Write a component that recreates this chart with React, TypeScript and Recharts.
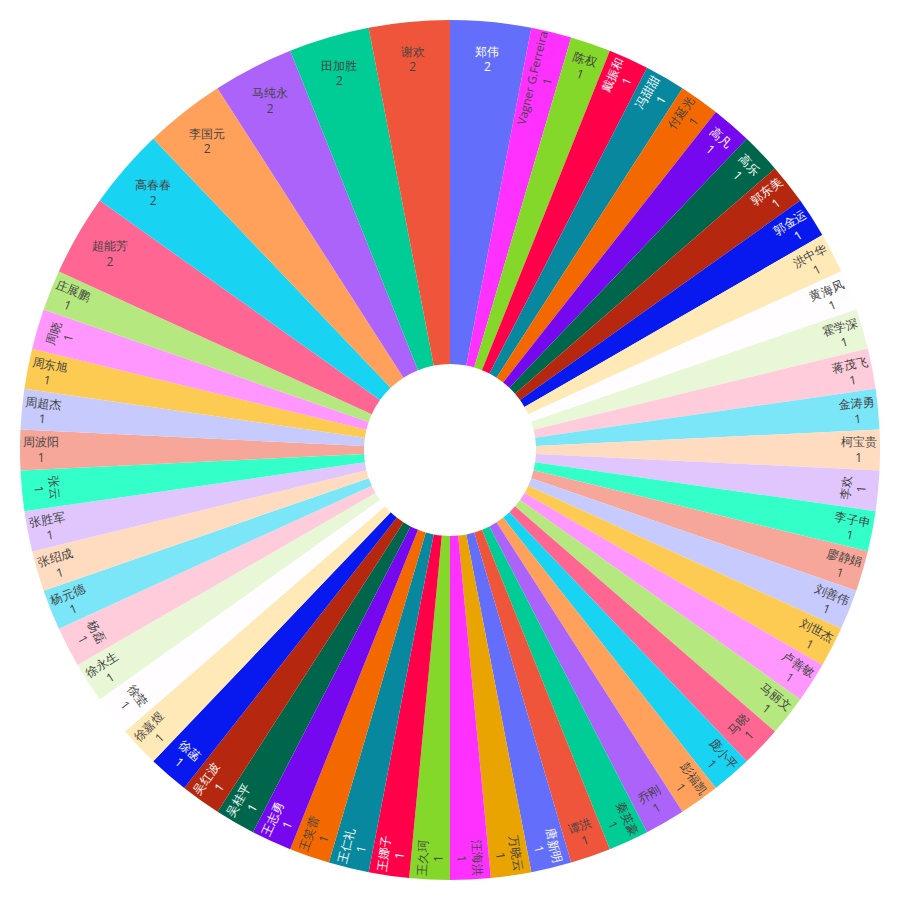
import React from "react";
import { PieChart, Pie, Cell } from "recharts";

// people, in the order the source listed them (count desc, then name desc)
const names = [
  "郑伟", "谢欢", "田加胜", "马纯永", "李国元", "高春春", "超能芳",
  "庄展鹏", "周晓", "周东旭", "周超杰", "周波阳", "张云", "张胜军", "张绍成",
  "杨元德", "杨磊", "徐永生", "徐莹", "徐嘉煜", "徐菡", "吴红波", "吴桂平",
  "王志勇", "王笑蕾", "王仁礼", "王娜子", "王久珂", "汪海洪", "万晓云", "唐新明",
  "谭洪", "秦英豪", "乔刚", "彭福凯", "庞小平", "马晓", "马丽文", "卢善敏",
  "刘世杰", "刘善伟", "廖静娟", "李子申", "李欢", "柯宝贵", "金涛勇", "蒋茂飞",
  "霍学深", "黄海风", "洪中华", "郭金运", "郭东美", "高乐", "高凡", "付延光",
  "冯甜甜", "戴振和", "陈权", "Vagner G.Ferreira",
];

const counts = [
  2, 2, 2, 2, 2, 2, 2,
  1, 1, 1, 1, 1, 1, 1, 1,
  1, 1, 1, 1, 1, 1, 1, 1,
  1, 1, 1, 1, 1, 1, 1, 1,
  1, 1, 1, 1, 1, 1, 1, 1,
  1, 1, 1, 1, 1, 1, 1, 1,
  1, 1, 1, 1, 1, 1, 1, 1,
  1, 1, 1, 1,
];

const BASE = ["#636EFA", "#EF553B", "#00CC96", "#AB63FA", "#FFA15A", "#19D3F3", "#FF6692", "#B6E880", "#FF97FF", "#FECB52"];

// hsl lighten / darken like tinycolor
function shade(hex: string, amt: number) {
  const r = parseInt(hex.slice(1, 3), 16) / 255;
  const g = parseInt(hex.slice(3, 5), 16) / 255;
  const b = parseInt(hex.slice(5, 7), 16) / 255;
  const max = Math.max(r, g, b), min = Math.min(r, g, b);
  let h = 0, s = 0;
  let l = (max + min) / 2;
  if (max !== min) {
    const d = max - min;
    s = l > 0.5 ? d / (2 - max - min) : d / (max + min);
    if (max === r) h = (g - b) / d + (g < b ? 6 : 0);
    else if (max === g) h = (b - r) / d + 2;
    else h = (r - g) / d + 4;
    h /= 6;
  }
  l = Math.min(1, Math.max(0, l + amt));
  const hue = (p: number, q: number, t: number) => {
    if (t < 0) t += 1;
    if (t > 1) t -= 1;
    if (t < 1 / 6) return p + (q - p) * 6 * t;
    if (t < 1 / 2) return q;
    if (t < 2 / 3) return p + (q - p) * (2 / 3 - t) * 6;
    return p;
  };
  let rr = l, gg = l, bb = l;
  if (s !== 0) {
    const q = l < 0.5 ? l * (1 + s) : l + s - l * s;
    const p = 2 * l - q;
    rr = hue(p, q, h + 1 / 3);
    gg = hue(p, q, h);
    bb = hue(p, q, h - 1 / 3);
  }
  const x = (v: number) => Math.round(v * 255).toString(16).padStart(2, "0");
  return "#" + x(rr) + x(gg) + x(bb);
}

const COLORS = [...BASE, ...BASE.map((c) => shade(c, 0.2)), ...BASE.map((c) => shade(c, -0.2))];

const source = names.map((name, i) => ({ name, value: counts[i], color: COLORS[i % COLORS.length] }));
// first slice at 12 o'clock, the rest running back round anticlockwise
const data = [source[0], ...source.slice(1).reverse()];
const total = counts.reduce((a, b) => a + b, 0);

const HOLE = 0.2;
const TEXTPAD = 3;
const FONT = "'Open Sans', verdana, arial, sans-serif";

let ctx: CanvasRenderingContext2D | null = null;
function textWidth(s: string) {
  if (!ctx) ctx = document.createElement("canvas").getContext("2d");
  if (ctx) {
    ctx.font = `12px ${FONT}`;
    return ctx.measureText(s).width;
  }
  return s.length * 12;
}

function isDark(hex: string) {
  const r = parseInt(hex.slice(1, 3), 16);
  const g = parseInt(hex.slice(3, 5), 16);
  const b = parseInt(hex.slice(5, 7), 16);
  return (r * 299 + g * 587 + b * 114) / 1000 < 128;
}

function maxHalfSize(a: number, half: number, r: number, ring: number) {
  const q = a + 1 / (2 * Math.tan(half));
  return r * Math.min(1 / (Math.sqrt(q * q + 0.5) + q), ring / (Math.sqrt(a * a + ring / 2) + a));
}

const calcRotate = (t: number) => (((180 / Math.PI) * t + 720) % 180) - 90;

const renderLabel = (props: any) => {
  const { cx, cy, midAngle, outerRadius, index } = props;
  const item = data[index];
  if (!item) return null;
  const r = outerRadius;
  const w = Math.max(textWidth(item.name), textWidth(String(item.value)));
  const h = 32;
  const half = Math.PI * Math.min(item.value / total, 0.5);
  const theta = ((90 - midAngle) * Math.PI) / 180;
  const ring = 1 - HOLE;
  const rIns = Math.min(1 / (1 + 1 / Math.sin(half)), ring / 2);

  let best = { scale: (rIns * r * 2) / Math.sqrt(w * w + h * h), rc: 1 - rIns, rotate: 0 };
  if (best.scale < 1) {
    const rr = Math.max(0, r - 2 * TEXTPAD);
    let a = w / h;
    let s = maxHalfSize(a, half, rr, ring);
    const rad = { scale: (2 * s) / h, rc: Math.cos(s / rr) - (a * s) / rr, rotate: calcRotate(theta) };
    a = h / w;
    s = maxHalfSize(a, half, rr, ring);
    const tan = { scale: (2 * s) / w, rc: Math.cos(s / rr) - (a * s) / rr, rotate: calcRotate(theta + Math.PI / 2) };
    if (rad.scale > best.scale) best = rad;
    if (tan.scale > best.scale) best = tan;
  }

  const x = cx + r * Math.sin(theta) * best.rc;
  const y = cy - r * Math.cos(theta) * best.rc;
  const sc = Math.min(1, best.scale);
  const fill = isDark(item.color) ? "#fff" : "#444";

  return (
    <g key={`lbl-${index}`} transform={`translate(${x},${y}) rotate(${best.rotate}) scale(${sc})`}>
      <text textAnchor="middle" fontFamily={FONT} fontSize={12} fill={fill}>
        <tspan x={0} y={-7.8} dy="0.35em">{item.name}</tspan>
        <tspan x={0} y={7.8} dy="0.35em">{item.value}</tspan>
      </text>
    </g>
  );
};

export default function App() {
  return (
    <div style={{ position: "absolute", left: 0, top: 0, width: 900, height: 900, background: "#fff" }}>
      <PieChart width={900} height={900} margin={{ top: 0, right: 0, bottom: 0, left: 0 }}>
        <Pie
          data={data}
          dataKey="value"
          nameKey="name"
          cx={450}
          cy={450}
          innerRadius={86}
          outerRadius={430}
          startAngle={90}
          endAngle={-270}
          stroke="none"
          label={renderLabel}
          labelLine={false}
          isAnimationActive={false}
        >
          {data.map((d, i) => (
            <Cell key={`cell-${i}`} fill={d.color} />
          ))}
        </Pie>
      </PieChart>
    </div>
  );
}
